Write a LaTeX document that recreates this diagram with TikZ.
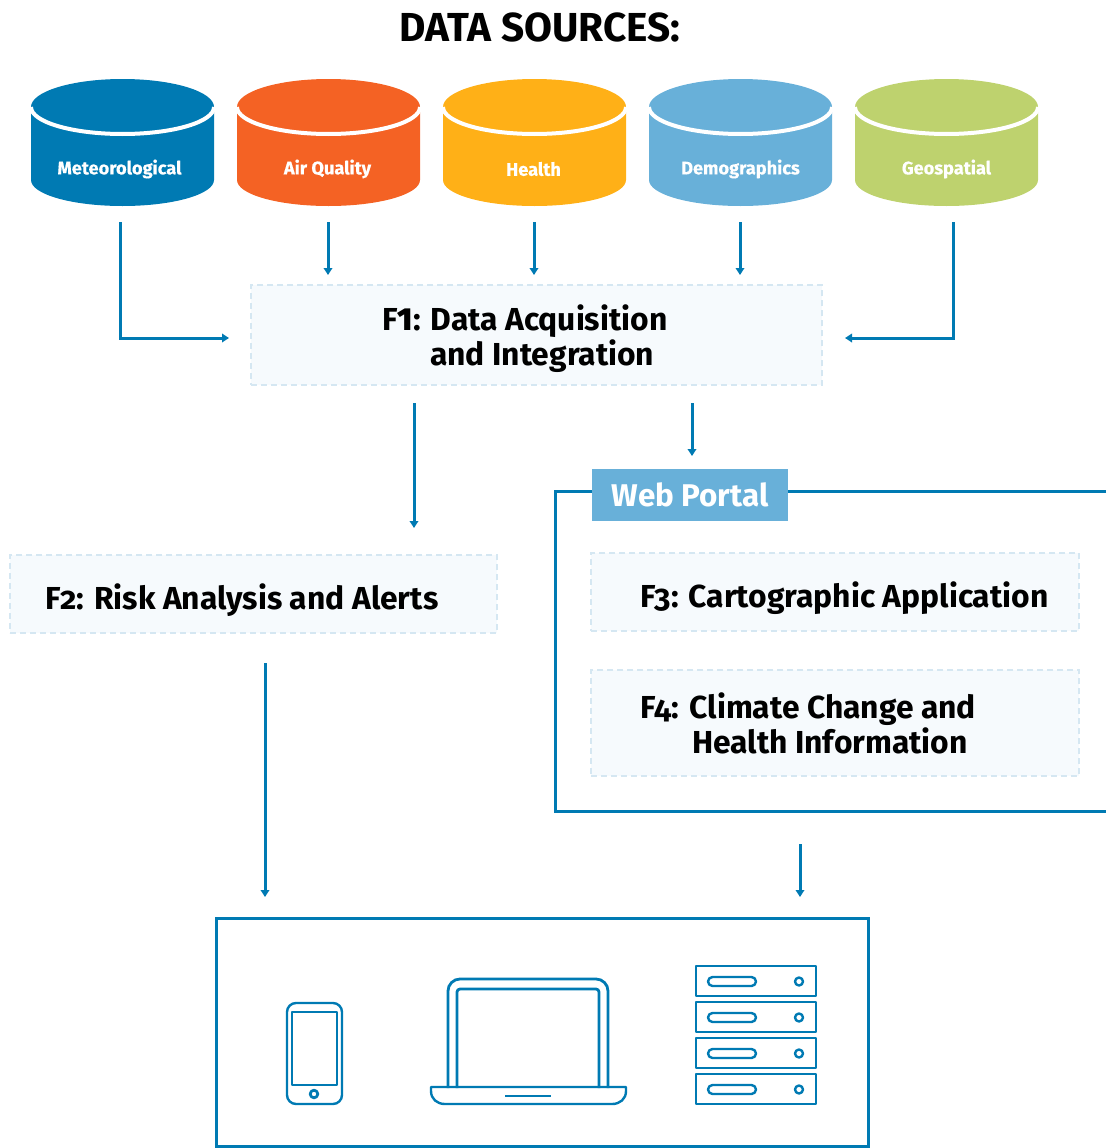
\documentclass[tikz,border=0pt]{standalone}
\usepackage{fontspec}
\setmainfont{Fira Sans}[BoldFont={Fira Sans Bold},Numbers=OldStyle]
\newfontfamily\heavyfont{Fira Sans Bold}[FakeBold=0.4,Numbers=OldStyle]
\newfontfamily\liningfont{Fira Sans Bold}[Numbers=Lining]
\usetikzlibrary{arrows.meta}
\definecolor{mainblue}{HTML}{007AB3}
\definecolor{orangec}{HTML}{F46224}
\definecolor{yellowc}{HTML}{FFB017}
\definecolor{lightb}{HTML}{68B0D9}
\definecolor{greenc}{HTML}{BED26E}
\definecolor{boxfill}{HTML}{F6FAFD}
\definecolor{boxedge}{HTML}{D5E7F2}
\tikzset{
  x=1pt,y=-1pt,
  flow/.style={draw=mainblue,line width=3pt,-{Triangle[length=7pt,width=8.5pt]}},
  framebox/.style={draw=mainblue,line width=3pt},
  icon/.style={draw=mainblue,line width=2.4pt,line join=round},
  funcbox/.style={draw=boxedge,fill=boxfill,line width=1.3pt,dash pattern=on 6pt off 4pt,rectangle,inner sep=0pt,outer sep=0pt,anchor=north west},
  functext/.style={font=\fontsize{31.8}{35}\selectfont\bfseries,align=left,anchor=west,inner sep=0pt,text=black},
  dblabel/.style={font=\fontsize{18.2}{20}\selectfont\heavyfont,text=white,inner sep=0pt},
}
\newcommand{\dbcyl}[5]{%
  \fill[#3] (#1-91.5,107) arc[start angle=180,end angle=360,x radius=91.5,y radius=28]
    -- (#1+91.5,180) arc[start angle=0,end angle=180,x radius=91.5,y radius=26] -- cycle;
  \draw[white,line width=4pt] (#1-91.5,107) arc[start angle=180,end angle=0,x radius=91.5,y radius=27];
  \node[dblabel] (#2) at (#5,169) {#4};
}
\begin{document}
\begin{tikzpicture}
\useasboundingbox (0,0) rectangle (1106,1148);
\node[font=\fontsize{40.5}{42}\selectfont\bfseries,inner sep=0pt] (title) at (540,27) {DATA SOURCES:};

\dbcyl{122.5}{met}{mainblue}{Meteorological}{119.5}
\dbcyl{328.5}{air}{orangec}{Air Quality}{327.5}
\dbcyl{534.5}{health}{yellowc}{Health}{533.5}
\dbcyl{740.5}{demo}{lightb}{Demographics}{740.5}
\dbcyl{946.5}{geo}{greenc}{Geospatial}{946.5}

% function boxes
\node[funcbox,minimum width=571pt,minimum height=100pt] (f1) at (251,285) {};
\node[funcbox,minimum width=487pt,minimum height=78pt] (f2) at (10,555) {};
\node[funcbox,minimum width=488pt,minimum height=78pt] (f3) at (591,553) {};
\node[funcbox,minimum width=488pt,minimum height=106pt] (f4) at (591,670) {};
\node[functext] (f1t) at (382,339) {F{\liningfont 1}: Data Acquisition\\\hspace*{48pt}and Integration};
\node[functext] (f2t) at (45,600) {F2: Risk Analysis and Alerts};
\node[functext] (f3t) at (640,598) {F3: Cartographic Application};
\node[functext] (f4t) at (640,723) {F4: Climate Change and\\\hspace*{52pt}Health Information};

% web portal frame
\coordinate (wpa) at (1106,491.5);
\coordinate (wpb) at (555.5,491.5);
\coordinate (wpc) at (555.5,811);
\coordinate (wpd) at (1106,811);
\draw[framebox,line join=miter] (wpa) -- (wpb) -- (wpc) -- (wpd);
\node[fill=lightb,text=white,font=\fontsize{31.4}{33}\selectfont\bfseries,minimum width=196pt,minimum height=52pt,inner sep=0pt,outer sep=0pt] (wp) at (690,495) {\raisebox{1pt}{Web Portal}};

% device frame
\node[framebox,rectangle,minimum width=652pt,minimum height=228pt,inner sep=0pt,outer sep=0pt,anchor=north west] (dev) at (216,918.5) {};

% connector ends
\coordinate (a1) at (120,222); \coordinate (a1m) at (120,338); \coordinate (a1e) at (229,338);
\coordinate (a2) at (328,222); \coordinate (a2e) at (328,275);
\coordinate (a3) at (534,222); \coordinate (a3e) at (534,275);
\coordinate (a4) at (740,222); \coordinate (a4e) at (740,275);
\coordinate (a5) at (953,222); \coordinate (a5m) at (953,338); \coordinate (a5e) at (845,338);
\coordinate (b1) at (414,403); \coordinate (b1e) at (414,528);
\coordinate (b2) at (692,403); \coordinate (b2e) at (692,456);
\coordinate (c1) at (265,663); \coordinate (c1e) at (265,897);
\coordinate (c2) at (800,844); \coordinate (c2e) at (800,897);
\draw[flow] (a1) -- (a1m) -- (a1e);
\draw[flow] (a2) -- (a2e);
\draw[flow] (a3) -- (a3e);
\draw[flow] (a4) -- (a4e);
\draw[flow] (a5) -- (a5m) -- (a5e);
\draw[flow] (b1) -- (b1e);
\draw[flow] (b2) -- (b2e);
\draw[flow] (c1) -- (c1e);
\draw[flow] (c2) -- (c2e);

% phone
\draw[icon,rounded corners=9pt] (287,1003) rectangle (342,1104);
\draw[icon,line width=2.8pt] (292,1012) rectangle (337,1085);
\draw[icon,line width=2.8pt] (314,1094) circle[radius=3.8];

% laptop
\draw[icon,line width=2.8pt,rounded corners=12pt] (448,1088) -- (448,979) -- (608,979) -- (608,1088);
\draw[icon,line width=2.8pt,rounded corners=3pt] (457,1088) -- (457,989) -- (599,989) -- (599,1088);
\draw[icon,line width=2.8pt] (447,1087) -- (609,1087);
\draw[icon] (431,1087) -- (431,1091) .. controls (431,1099) and (437,1104) .. (445,1104) -- (612,1104) .. controls (620,1104) and (626,1099) .. (626,1091) -- (626,1087) -- cycle;
\draw[icon,line width=2.6pt] (505,1096) -- (551,1096);

% server
\foreach \ty in {966,1002,1038,1074}{
  \draw[icon] (696,\ty) rectangle (816,\ty+30);
  \draw[icon,rounded corners=4.5pt] (708,\ty+11) rectangle (756,\ty+20);
  \draw[icon] (799,\ty+15.5) circle[radius=4];
}
\end{tikzpicture}
\end{document}
